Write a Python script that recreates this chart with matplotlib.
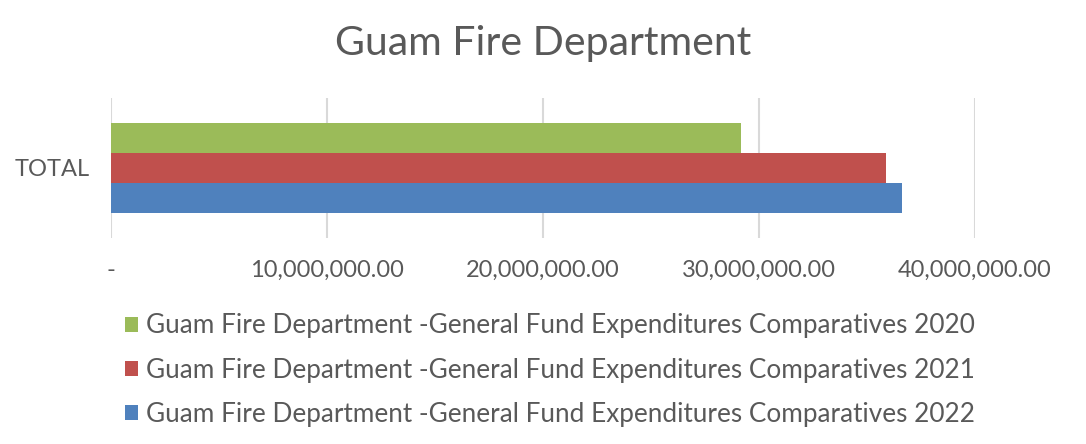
import matplotlib.pyplot as plt
from matplotlib.ticker import FuncFormatter

plt.rcParams['font.family'] = ['Lato', 'DejaVu Sans']

# data
category = "TOTAL"
years = ["2020", "2021", "2022"]
values = [29170000, 35870000, 36620000]
colors = ["#9BBB59", "#C0504D", "#4F81BD"]
ticks = [0, 10000000, 20000000, 30000000, 40000000]

text_col = "#595959"

fig = plt.figure(figsize=(10.86, 4.44), dpi=100)
ax = fig.add_axes([111 / 1086, 1 - 238 / 444, 864 / 1086, 140 / 444])

h = 0.212
offsets = [h, 0, -h]
for yr, v, c, off in zip(years, values, colors, offsets):
    ax.barh(off, v, height=h, color=c, zorder=3,
            label="Guam Fire Department -General Fund Expenditures Comparatives " + yr)

ax.set_xlim(0, 40000000)
ax.set_ylim(-0.5, 0.5)
ax.set_xticks(ticks)
ax.xaxis.set_major_formatter(FuncFormatter(lambda v, p: "-" if v == 0 else f"{v:,.2f}"))
ax.set_yticks([0])
ax.set_yticklabels([category])
ax.grid(axis="x", color="#D9D9D9", linewidth=1.5, zorder=0)
for s in ax.spines.values():
    s.set_visible(False)
ax.tick_params(axis="both", length=0, labelsize=17, colors=text_col)
ax.tick_params(axis="x", pad=16)
ax.tick_params(axis="y", pad=15)

fig.text(543 / 1086, 1 - 44 / 444, "Guam Fire Department", ha="center", va="center",
         fontsize=29.5, color=text_col)

fig.legend(loc="upper left", bbox_to_anchor=(115 / 1086, 1 - 303 / 444),
           frameon=False, fontsize=18.8, labelcolor=text_col,
           handlelength=0.5, handleheight=0.5, handletextpad=0.27,
           labelspacing=0.73, borderaxespad=0)

fig.savefig("out.png", dpi=100)
